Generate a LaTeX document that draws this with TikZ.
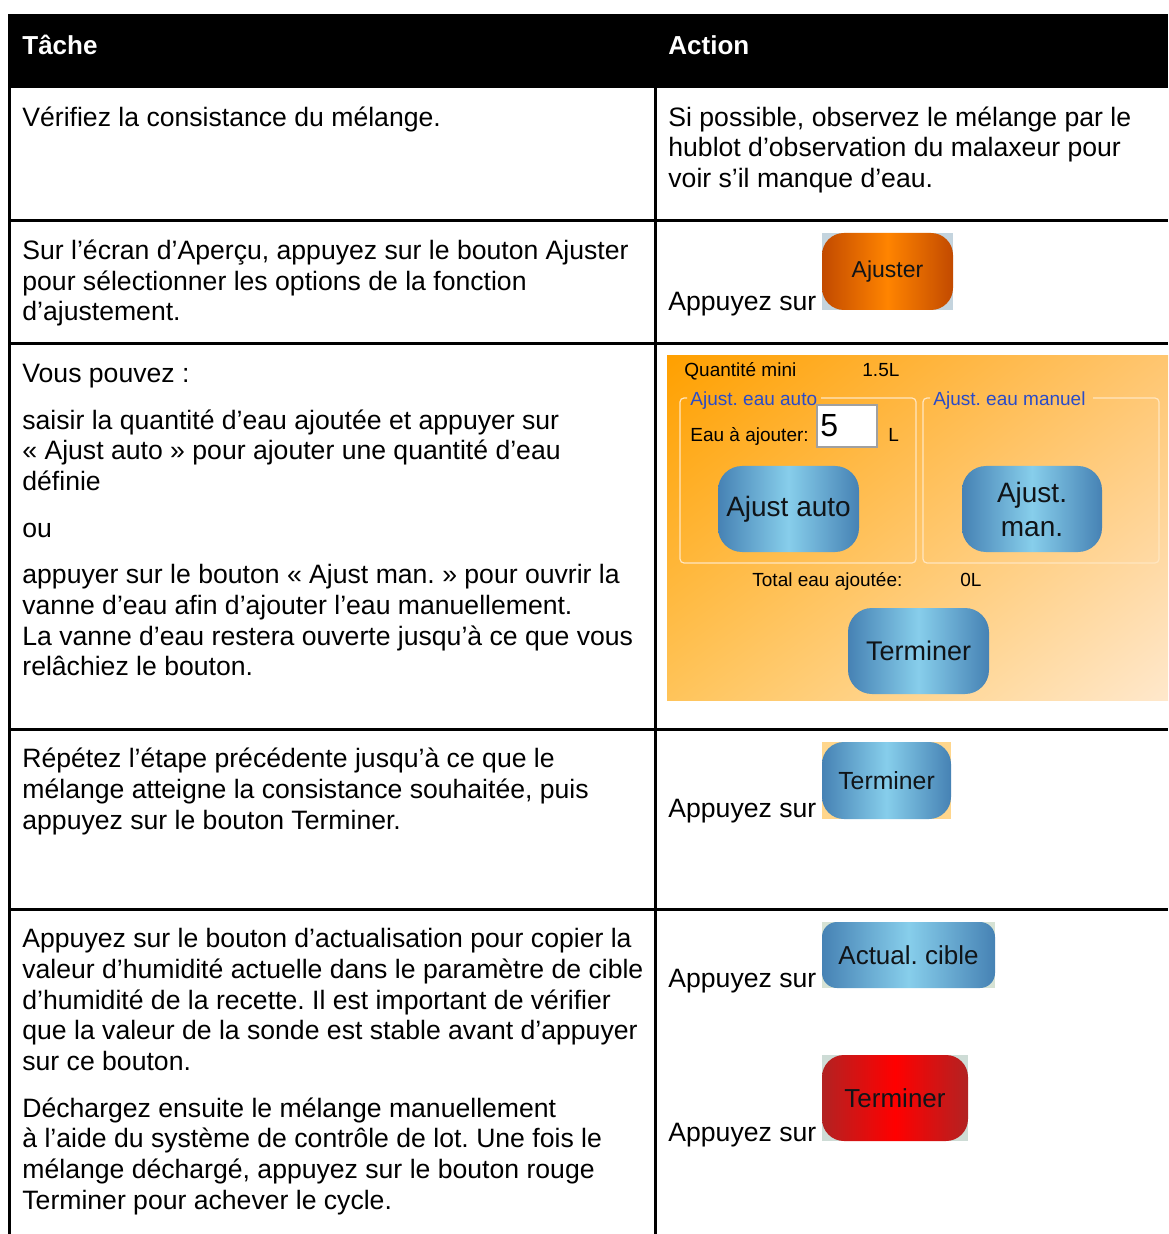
\documentclass[tikz,border=0pt]{standalone}
\usepackage{fontspec}
\setmainfont{Liberation Sans}
\usetikzlibrary{shadings}
\frenchspacing
\definecolor{panelTL}{HTML}{FFA000}
\definecolor{panelTR}{HTML}{FFC670}
\definecolor{panelBL}{HTML}{FFC45A}
\definecolor{panelBR}{HTML}{FFE8CC}
\definecolor{steelEdge}{HTML}{4682B4}
\definecolor{skyMid}{HTML}{87CEEB}
\definecolor{orEdge}{HTML}{C24A00}
\definecolor{orMid}{HTML}{FF8400}
\definecolor{redEdge}{HTML}{B22222}
\definecolor{redMid}{HTML}{FF0000}
\definecolor{grpLabel}{HTML}{2A4BC8}
\definecolor{grpLine}{HTML}{FFE6C0}
\definecolor{btnText}{HTML}{101418}
\begin{document}
\begin{tikzpicture}[x=0.5pt,y=-0.5pt,
  body/.style={anchor=base west, inner sep=0pt, font=\fontsize{13.3}{16}\selectfont},
  head/.style={anchor=base west, inner sep=0pt, text=white, font=\bfseries\fontsize{13}{16}\selectfont},
  rule/.style={line width=1.5pt, black},
  scr/.style={anchor=base west, inner sep=0pt, font=\fontsize{9.5}{11}\selectfont},
  grp/.style={scr, text=grpLabel},
  btnlabel/.style={inner sep=0pt, text=btnText, align=center},
  bluebtn/.style={left color=steelEdge, right color=steelEdge, middle color=skyMid},
  orangebtn/.style={left color=orEdge, right color=orEdge, middle color=orMid},
  redbtn/.style={left color=redEdge, right color=redEdge, middle color=redMid},
  grpbox/.style={draw=grpLine, line width=0.6pt, rounded corners=2pt}]
\useasboundingbox (0,0) rectangle (1168,1234);

% header bar
\fill[black] (8,14) rectangle (1168,88);
\node[head] (hTask) at (22,54.5) {Tâche};
\node[head] (hAction) at (668,54.5) {Action};

% table rules
\draw[rule] (9.5,88) -- (9.5,1234);
\draw[rule] (655,88) -- (655,1234);
\foreach \yy in {221,343.5,729,909.5}
  \draw[rule] (8,\yy) -- (1168,\yy);

% row 1
\node[body] (r1l) at (22,126.5) {Vérifiez la consistance du mélange.};
\foreach \yy/\txt [count=\i] in {126.5/{Si possible, observez le mélange par le},
    156.5/{hublot d’observation du malaxeur pour},
    187.5/{voir s’il manque d’eau.}}
  \node[body] (r1r-\i) at (668,\yy) {\txt};

% row 2
\foreach \yy/\txt [count=\i] in {259.5/{Sur l’écran d’Aperçu, appuyez sur le bouton Ajuster},
    290.5/{pour sélectionner les options de la fonction},
    320.5/{d’ajustement.}}
  \node[body] (r2l-\i) at (22,\yy) {\txt};
\node[body] (r2r) at (668,310.5) {Appuyez sur};
\fill[fill={rgb,255:red,196;green,212;blue,222}] (822,233) rectangle (953,310);
\shade[orangebtn, rounded corners=11pt] (822,233) rectangle (953,310);
\node[btnlabel, font=\fontsize{11.5}{13}\selectfont] (bAjuster) at (887.5,271.5) {Ajuster};

% row 3
\foreach \yy/\txt [count=\i] in {382.5/{Vous pouvez :},
    429.5/{saisir la quantité d’eau ajoutée et appuyer sur},
    459.5/{« Ajust auto » pour ajouter une quantité d’eau},
    490.5/{définie},
    537.5/{ou},
    583.5/{appuyer sur le bouton « Ajust man. » pour ouvrir la},
    614.5/{vanne d’eau afin d’ajouter l’eau manuellement.},
    645.5/{La vanne d’eau restera ouverte jusqu’à ce que vous},
    675.5/{relâchiez le bouton.}}
  \node[body] (r3l-\i) at (22,\yy) {\txt};

% adjustment screen
\shade[upper left=panelTL, upper right=panelTR, lower left=panelBL, lower right=panelBR] (667,356) rectangle (1168,700);
\node[scr] (sQty) at (684,376.5) {Quantité mini};
\node[scr] (sQtyVal) at (862,376.5) {1.5L};
\draw[grpbox] (821,398) -- (916,398) -- (916,563) -- (680,563) -- (680,398) -- (687,398);
\draw[grpbox] (1093,398) -- (1159,398) -- (1159,563) -- (923,563) -- (923,398) -- (930,398);
\node[grp] (gAuto) at (690,405.5) {Ajust. eau auto};
\node[grp] (gMan) at (933,405.5) {Ajust. eau manuel};
\node[scr] (sAdd) at (690,441.5) {Eau à ajouter:};
\draw[fill=white, draw={rgb,255:red,160;green,160;blue,160}, line width=0.6pt] (817,405) rectangle (877,447);
\node[anchor=base west, inner sep=0pt, font=\fontsize{16}{18}\selectfont] (sFive) at (820,437) {5};
\node[scr] (sUnit) at (888,441.5) {L};
\shade[bluebtn, rounded corners=12pt] (718,466) rectangle (859,552);
\node[btnlabel, font=\fontsize{14}{17}\selectfont] (bAuto) at (788.5,509) {Ajust auto};
\shade[bluebtn, rounded corners=12pt] (962,466) rectangle (1102,552);
\node[btnlabel, font=\fontsize{14}{17}\selectfont] (bMan) at (1032,509) {Ajust.\\man.};
\node[scr] (sTotal) at (752,586.5) {Total eau ajoutée:};
\node[scr] (sTotalVal) at (960,586.5) {0L};
\shade[bluebtn, rounded corners=12pt] (848,608) rectangle (989,694);
\node[btnlabel, font=\fontsize{13.5}{16}\selectfont] (bFinish) at (918.5,651) {Terminer};

% row 4
\foreach \yy/\txt [count=\i] in {767.5/{Répétez l’étape précédente jusqu’à ce que le},
    798.5/{mélange atteigne la consistance souhaitée, puis},
    829.5/{appuyez sur le bouton Terminer.}}
  \node[body] (r4l-\i) at (22,\yy) {\txt};
\node[body] (r4r) at (668,817.5) {Appuyez sur};
\fill[fill={rgb,255:red,255;green,214;blue,140}] (822,742) rectangle (951,819);
\shade[bluebtn, rounded corners=11pt] (822,742) rectangle (951,819);
\node[btnlabel, font=\fontsize{12.4}{15}\selectfont] (bTerm) at (886.5,781) {Terminer};

% row 5
\foreach \yy/\txt [count=\i] in {947.5/{Appuyez sur le bouton d’actualisation pour copier la},
    978.5/{valeur d’humidité actuelle dans le paramètre de cible},
    1009.5/{d’humidité de la recette. Il est important de vérifier},
    1039.5/{que la valeur de la sonde est stable avant d’appuyer},
    1070.5/{sur ce bouton.},
    1117.5/{Déchargez ensuite le mélange manuellement},
    1147.5/{à l’aide du système de contrôle de lot. Une fois le},
    1178.5/{mélange déchargé, appuyez sur le bouton rouge},
    1209.5/{Terminer pour achever le cycle.}}
  \node[body] (r5l-\i) at (22,\yy) {\txt};
\node[body] (r5r-1) at (668,987.5) {Appuyez sur};
\fill[fill={rgb,255:red,214;green,226;blue,212}] (822,922) rectangle (995,988);
\shade[bluebtn, rounded corners=7.5pt] (822,922) rectangle (995,988);
\node[btnlabel, font=\fontsize{13}{15}\selectfont] (bUpdate) at (908.5,955) {Actual. cible};
\node[body] (r5r-2) at (668,1141.5) {Appuyez sur};
\fill[fill={rgb,255:red,206;green,220;blue,214}] (822,1055) rectangle (968,1141);
\shade[redbtn, rounded corners=11pt] (822,1055) rectangle (968,1141);
\node[btnlabel, font=\fontsize{13}{15}\selectfont] (bRedTerm) at (895,1098) {Terminer};
\end{tikzpicture}
\end{document}
